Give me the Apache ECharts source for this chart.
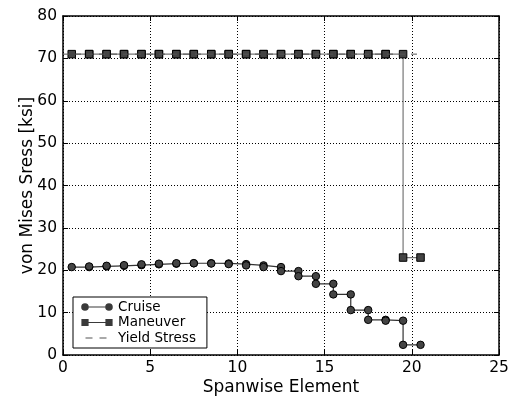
<!DOCTYPE html>
<html>
<head>
<meta charset="utf-8">
<script src="https://cdn.jsdelivr.net/npm/echarts@6/dist/echarts.min.js"></script>
<style>
  html, body { margin: 0; padding: 0; background: #fff; }
  #chart { width: 513px; height: 397px; }
</style>
</head>
<body>
<div id="chart"></div>
<script>
// Spanwise elements (1-based); each element spans [n - 0.5, n + 0.5]
const elements = [1, 2, 3, 4, 5, 6, 7, 8, 9, 10, 11, 12, 13, 14, 15, 16, 17, 18, 19, 20];

// Peak von Mises stress per element [ksi]
const cruiseStress = [20.75, 20.9, 21.05, 21.2, 21.4, 21.55, 21.65, 21.65, 21.6, 21.45,
                      21.15, 20.75, 19.8, 18.6, 16.8, 14.3, 10.6, 8.3, 8.1, 2.4];
const maneuverStress = [71, 71, 71, 71, 71, 71, 71, 71, 71, 71,
                        71, 71, 71, 71, 71, 71, 71, 71, 71, 23];

// Material yield stress [ksi] and the span it is drawn over
const yieldStress = 71;
const yieldSpan = [0, 20.5];

// Axis ticks
const xTicks = [0, 5, 10, 15, 20, 25];
const yTicks = [0, 10, 20, 30, 40, 50, 60, 70, 80];

// Piecewise-constant profile: each element contributes its two edge points
function stepPoints(values) {
  const pts = [];
  elements.forEach((n, i) => {
    pts.push([n - 0.5, values[i]]);
    pts.push([n + 0.5, values[i]]);
  });
  return pts;
}

const FONT = 'DejaVu Sans';

function axisBase(ticks, extra) {
  return Object.assign({
    type: 'value',
    min: ticks[0],
    max: ticks[ticks.length - 1],
    interval: ticks[1] - ticks[0],
    axisLine: { show: true, onZero: false, lineStyle: { color: '#000', width: 1.5 } },
    axisTick: { show: true, inside: true, length: 5, lineStyle: { color: '#000', width: 1 } },
    splitLine: { show: false },
    axisLabel: { show: false }
  }, extra);
}

// Legend glyphs: marker - line - marker, and a two-dash sample
const legendIcons = {
  cruise: 'path://M0,0 L0,0 M32,10 L32,10 ' +
          'M0.2,5 A3.8,3.8 0 1,1 7.8,5 A3.8,3.8 0 1,1 0.2,5 Z ' +
          'M24.2,5 A3.8,3.8 0 1,1 31.8,5 A3.8,3.8 0 1,1 24.2,5 Z ' +
          'M7.8,4.4 L24.2,4.4 L24.2,5.6 L7.8,5.6 Z',
  maneuver: 'path://M0,0 L0,0 M32,10 L32,10 ' +
            'M0.4,1.4 L7.6,1.4 L7.6,8.6 L0.4,8.6 Z ' +
            'M24.4,1.4 L31.6,1.4 L31.6,8.6 L24.4,8.6 Z ' +
            'M7.6,4.4 L24.4,4.4 L24.4,5.6 L7.6,5.6 Z',
  yield: 'path://M0,0 L0,0 M32,10 L32,10 ' +
         'M4.5,4.4 L11.5,4.4 L11.5,5.6 L4.5,5.6 Z ' +
         'M18.5,4.4 L25.5,4.4 L25.5,5.6 L18.5,5.6 Z'
};

const chart = echarts.init(document.getElementById('chart'), null, { renderer: 'canvas' });

chart.setOption({
  animation: false,
  backgroundColor: '#fff',
  grid: { left: 63, right: 14, top: 16, bottom: 42, containLabel: false, outerBoundsMode: 'none' },
  xAxis: [
    axisBase(xTicks, {
      position: 'bottom',
      name: 'Spanwise Element',
      nameLocation: 'middle',
      nameGap: 24,
      nameMoveOverlap: false,
      nameTextStyle: { fontFamily: FONT, fontSize: 17, color: '#000' },
      axisLabel: { show: true, margin: 5, fontFamily: FONT, fontSize: 15.5, color: '#000' },
      splitLine: { show: true, lineStyle: { color: '#000', width: 1, type: [1, 2] } }
    }),
    axisBase(xTicks, { position: 'top' })
  ],
  yAxis: [
    axisBase(yTicks, {
      position: 'left',
      name: 'von Mises Sress [ksi]',
      nameLocation: 'middle',
      nameGap: 27,
      nameMoveOverlap: false,
      nameTextStyle: { fontFamily: FONT, fontSize: 17, color: '#000' },
      axisLabel: { show: true, margin: 6, fontFamily: FONT, fontSize: 15.5, color: '#000' },
      splitLine: { show: true, lineStyle: { color: '#000', width: 1, type: [1, 2] } }
    }),
    axisBase(yTicks, { position: 'right' })
  ],
  legend: {
    orient: 'vertical',
    left: 73,
    top: 297,
    padding: [3, 11, 3, 8],
    itemGap: 1.5,
    itemWidth: 32,
    itemHeight: 10,
    backgroundColor: '#fff',
    borderColor: '#000',
    borderWidth: 1,
    borderRadius: 0,
    textStyle: { fontFamily: FONT, fontSize: 13.5, color: '#000', lineHeight: 14 },
    data: [
      { name: 'Cruise', icon: legendIcons.cruise, itemStyle: { color: '#3a3a3a', borderWidth: 0 } },
      { name: 'Maneuver', icon: legendIcons.maneuver, itemStyle: { color: '#3a3a3a', borderWidth: 0 } },
      { name: 'Yield Stress', icon: legendIcons.yield, itemStyle: { color: '#555', borderWidth: 0 } }
    ]
  },
  series: [
    {
      name: 'Cruise',
      type: 'line',
      xAxisIndex: 0,
      yAxisIndex: 0,
      data: stepPoints(cruiseStress),
      symbol: 'circle',
      symbolSize: 7.5,
      lineStyle: { color: '#333', width: 1.2 },
      itemStyle: { color: '#444', borderColor: '#000', borderWidth: 1 },
      z: 3
    },
    {
      name: 'Maneuver',
      type: 'line',
      xAxisIndex: 0,
      yAxisIndex: 0,
      data: stepPoints(maneuverStress),
      symbol: 'rect',
      symbolSize: 7.5,
      lineStyle: { color: '#777', width: 1.2 },
      itemStyle: { color: '#444', borderColor: '#000', borderWidth: 1 },
      z: 4
    },
    {
      name: 'Yield Stress',
      type: 'line',
      xAxisIndex: 0,
      yAxisIndex: 0,
      data: yieldSpan.map(x => [x, yieldStress]),
      symbol: 'none',
      lineStyle: { color: '#555', width: 1, type: [6, 6] },
      z: 5
    }
  ]
});
</script>
</body>
</html>
